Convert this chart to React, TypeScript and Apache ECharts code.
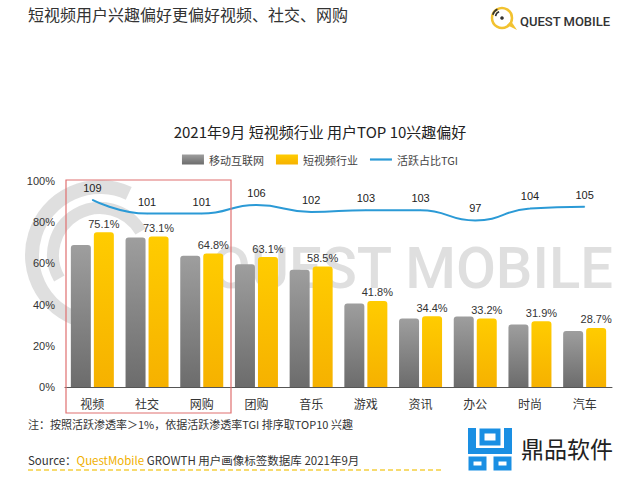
import React, { useEffect, useRef } from "react";
import * as echarts from "echarts";

const categories = ["视频", "社交", "网购", "团购", "音乐", "游戏", "资讯", "办公", "时尚", "汽车"];
const mobileInternet = [68.9, 72.6, 63.7, 59.6, 56.9, 40.5, 33.2, 34.2, 30.4, 27.2];
const shortVideo = [75.1, 73.1, 64.8, 63.1, 58.5, 41.8, 34.4, 33.2, 31.9, 28.7];
const tgi = [109, 101, 101, 106, 102, 103, 103, 97, 104, 105];
const seriesNames = ["移动互联网", "短视频行业", "活跃占比TGI"];

const FONT = "'Liberation Sans', 'Noto Sans CJK SC', sans-serif";
const CJK = "'Noto Sans CJK SC', 'Liberation Sans', sans-serif";
const deg = (d: number) => (d * Math.PI) / 180;

export default function App() {
  const ref = useRef<HTMLDivElement>(null);
  useEffect(() => {
    if (!ref.current) return;
    const chart = echarts.init(ref.current, null, { renderer: "svg" });
    const wm = "rgba(185,185,185,0.45)";
    chart.setOption({
      animation: false,
      backgroundColor: "#ffffff",
      textStyle: { fontFamily: FONT },
      title: {
        text: "2021年9月 短视频行业 用户TOP 10兴趣偏好",
        left: "center",
        top: 119,
        textStyle: { fontSize: 15, fontWeight: "normal", color: "#222", fontFamily: CJK },
      },
      legend: {
        left: "center",
        top: 149,
        itemWidth: 22,
        itemHeight: 10,
        itemGap: 12,
        textStyle: { fontSize: 11, color: "#444", fontFamily: CJK },
        data: [
          { name: seriesNames[0], icon: "rect" },
          { name: seriesNames[1], icon: "rect" },
          { name: seriesNames[2], icon: "path://M0,4 L20,4 L20,6 L0,6 Z" },
        ],
      },
      grid: { left: 65, right: 28, top: 181, bottom: 90 },
      xAxis: {
        type: "category",
        data: categories,
        axisLine: { lineStyle: { color: "#555", width: 1 } },
        axisTick: { show: false },
        axisLabel: { color: "#333", fontSize: 12, margin: 10, fontFamily: CJK },
      },
      yAxis: [
        {
          type: "value",
          min: 0,
          max: 100,
          interval: 20,
          axisLine: { show: false },
          axisTick: { show: false },
          splitLine: { show: false },
          axisLabel: { formatter: "{value}%", color: "#333", fontSize: 11, margin: 10 },
        },
        { type: "value", min: 0, max: 120, show: false, splitLine: { show: false } },
      ],
      graphic: [
        // header
        {
          type: "text",
          left: 28,
          top: 6,
          style: { text: "短视频用户兴趣偏好更偏好视频、社交、网购", font: `16px ${CJK}`, fill: "#333" },
        },
        {
          type: "circle",
          shape: { cx: 502, cy: 18, r: 10 },
          style: { fill: "none", stroke: "#f2c230", lineWidth: 2.5 },
        },
        {
          type: "polygon",
          shape: { points: [[507, 25], [517, 30], [511, 21]] },
          style: { fill: "#f2c230" },
        },
        { type: "circle", shape: { cx: 502, cy: 18, r: 1.8 }, style: { fill: "#333" } },
        {
          type: "arc",
          shape: { cx: 501, cy: 17, r: 5.5, startAngle: deg(190), endAngle: deg(250) },
          style: { stroke: "#333", lineWidth: 1.6, fill: "none" },
        },
        {
          type: "arc",
          shape: { cx: 501, cy: 17, r: 8.5, startAngle: deg(195), endAngle: deg(245) },
          style: { stroke: "#333", lineWidth: 1.6, fill: "none" },
        },
        {
          type: "text",
          left: 520,
          top: 15,
          style: { text: "QUEST MOBILE", font: `500 13px Roboto, 'Liberation Sans', sans-serif`, fill: "#333" },
        },
        // watermark
        {
          type: "arc",
          z: -10,
          shape: { cx: 100, cy: 255, r: 68, startAngle: deg(100), endAngle: deg(295) },
          style: { stroke: wm, lineWidth: 14, fill: "none" },
        },
        {
          type: "arc",
          z: -10,
          shape: { cx: 100, cy: 255, r: 47, startAngle: deg(150), endAngle: deg(330) },
          style: { stroke: wm, lineWidth: 12, fill: "none" },
        },
        {
          type: "text",
          z: -10,
          x: 613,
          y: 268,
          style: {
            text: "QUEST MOBILE",
            font: `500 58px Roboto, 'Liberation Sans', sans-serif`,
            fill: wm,
            align: "right",
            verticalAlign: "middle",
          },
        },
        // highlight box
        {
          type: "rect",
          z: 100,
          shape: { x: 66, y: 180, width: 165, height: 233 },
          style: { fill: "none", stroke: "#e07070", lineWidth: 1.2 },
        },
        // footer
        {
          type: "text",
          left: 28,
          top: 418,
          style: {
            text: "注：按照活跃渗透率＞1%，依据活跃渗透率TGI 排序取TOP10 兴趣",
            font: `11px ${CJK}`,
            fill: "#333",
          },
        },
        {
          type: "text",
          left: 28,
          top: 454,
          style: {
            text: "{a|Source：}{b|QuestMobile}{a| GROWTH 用户画像标签数据库 2021年9月}",
            rich: {
              a: { font: `11.5px ${CJK}`, fill: "#333" },
              b: { font: `11.5px ${CJK}`, fill: "#f0b000" },
            },
          },
        },
        {
          type: "line",
          shape: { x1: 28, y1: 470, x2: 443, y2: 470 },
          style: { stroke: "#f5d040", lineWidth: 1.5, lineDash: [5, 3] },
        },
        // bottom-right logo
        { type: "rect", shape: { x: 468, y: 428, width: 8, height: 24 }, style: { fill: "#1a8fe3" } },
        { type: "rect", shape: { x: 504, y: 428, width: 8, height: 24 }, style: { fill: "#1a8fe3" } },
        { type: "rect", shape: { x: 468, y: 448, width: 44, height: 6 }, style: { fill: "#1a8fe3" } },
        {
          type: "rect",
          shape: { x: 482, y: 431, width: 16, height: 12 },
          style: { fill: "none", stroke: "#1a8fe3", lineWidth: 5 },
        },
        {
          type: "rect",
          shape: { x: 471, y: 459, width: 13, height: 9 },
          style: { fill: "none", stroke: "#1a8fe3", lineWidth: 5 },
        },
        {
          type: "rect",
          shape: { x: 496, y: 459, width: 13, height: 9 },
          style: { fill: "none", stroke: "#1a8fe3", lineWidth: 5 },
        },
        {
          type: "text",
          left: 521,
          top: 436,
          style: { text: "鼎品软件", font: `23px ${CJK}`, fill: "#222" },
        },
      ],
      series: [
        {
          name: seriesNames[0],
          type: "bar",
          data: mobileInternet,
          barWidth: 20,
          barGap: "15%",
          itemStyle: {
            borderRadius: [3, 3, 0, 0],
            color: new echarts.graphic.LinearGradient(0, 0, 0, 1, [
              { offset: 0, color: "#9e9e9e" },
              { offset: 1, color: "#6c6c6c" },
            ]),
          },
        },
        {
          name: seriesNames[1],
          type: "bar",
          data: shortVideo,
          barWidth: 20,
          barGap: "15%",
          itemStyle: {
            borderRadius: [3, 3, 0, 0],
            color: new echarts.graphic.LinearGradient(0, 0, 0, 1, [
              { offset: 0, color: "#ffcc00" },
              { offset: 1, color: "#f6b100" },
            ]),
          },
          label: {
            show: true,
            position: "top",
            distance: 3,
            formatter: "{c}%",
            color: "#333",
            fontSize: 11,
          },
        },
        {
          name: seriesNames[2],
          type: "line",
          yAxisIndex: 1,
          data: tgi,
          smooth: true,
          symbol: "circle",
          symbolSize: 1,
          itemStyle: { color: "#2b9ad6" },
          lineStyle: { color: "#2b9ad6", width: 2 },
          label: { show: true, position: "top", distance: 6, color: "#222", fontSize: 11 },
          z: 5,
        },
      ],
    });
    return () => chart.dispose();
  }, []);
  return <div ref={ref} style={{ position: "fixed", left: 0, top: 0, width: 640, height: 477 }} />;
}
